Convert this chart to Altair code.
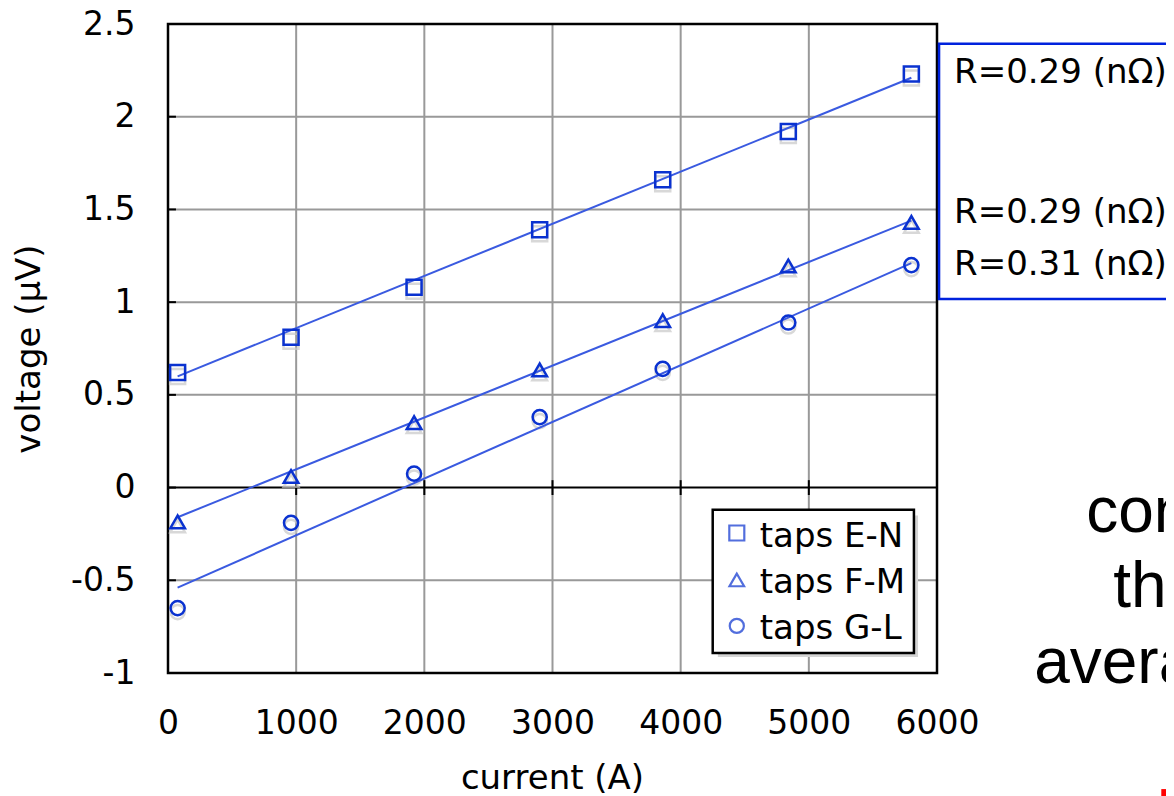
import altair as alt
import pandas as pd

# ---------------- data ----------------
current = [75, 960, 1920, 2900, 3860, 4840, 5800]
v_en = [0.62, 0.81, 1.08, 1.39, 1.66, 1.92, 2.23]
v_fm = [-0.185, 0.06, 0.35, 0.635, 0.90, 1.195, 1.43]
v_gl = [-0.65, -0.19, 0.075, 0.38, 0.64, 0.89, 1.20]
series = ["taps E-N", "taps F-M", "taps G-L"]
fit_x = [75, 5800]
fit_en = [0.60, 2.21]
fit_fm = [-0.16, 1.44]
fit_gl = [-0.54, 1.21]
r_labels = ["R=0.29 (nΩ)", "R=0.29 (nΩ)", "R=0.31 (nΩ)"]
slide_words = ["con", "the", "avera"]
x_ticks = [0, 1000, 2000, 3000, 4000, 5000, 6000]
y_ticks = [-1, -0.5, 0, 0.5, 1, 1.5, 2, 2.5]

# ---------------- tables ----------------
pts = pd.DataFrame({
    "series": [s for s in series for _ in current],
    "current": current * 3,
    "voltage": v_en + v_fm + v_gl,
})
fits = pd.DataFrame({
    "series": [s for s in series for _ in fit_x],
    "current": fit_x * 3,
    "voltage": fit_en + fit_fm + fit_gl,
})

BLUE = "#0a32d0"
LINE = "#3a5ae0"
FONT = "DejaVu Sans"

xs = alt.Scale(domain=[0, 6000], range=[0, 769], nice=False, zero=False)
ys = alt.Scale(domain=[-1, 2.5], nice=False, zero=False)
xaxis = alt.Axis(values=x_ticks, format="d", title="current (A)", grid=False,
                 domain=False, ticks=False, tickSize=0, labelPadding=34,
                 labelFont=FONT, labelFontSize=33, labelColor="black",
                 titleFont=FONT, titleFontSize=34, titleFontWeight="normal",
                 titleColor="black", titleX=384, titleY=115,
                 titleAlign="center", titleBaseline="alphabetic",
                 labelFlush=False, labelOverlap=False)
yaxis = alt.Axis(values=y_ticks, labelExpr="'' + datum.value", title="voltage (μV)",
                 grid=False, domain=False, ticks=False, tickSize=0, labelPadding=33,
                 labelFont=FONT, labelFontSize=33, labelColor="black",
                 titleFont=FONT, titleFontSize=34, titleFontWeight="normal",
                 titleColor="black", titleX=-129, titleY=324.5, titleAngle=270,
                 titleAlign="center", titleBaseline="alphabetic",
                 labelFlush=False, labelOverlap=False)


def X(f):
    return alt.X(f, type="quantitative", scale=xs, axis=xaxis)


def Y(f):
    return alt.Y(f, type="quantitative", scale=ys, axis=yaxis)


def XD(v):
    return alt.datum(v, type="quantitative", scale=xs, axis=xaxis)


def YD(v):
    return alt.datum(v, type="quantitative", scale=ys, axis=yaxis)


shape_enc = alt.Shape("series:N", scale=alt.Scale(domain=series, range=["square", "triangle-up", "circle"]), legend=None)
size_enc = alt.Size("series:N", scale=alt.Scale(domain=series, range=[225, 200, 160]), legend=None)
lsize_enc = alt.Size("series:N", scale=alt.Scale(domain=series, range=[180, 170, 140]), legend=None)

# grid, frame, inner ticks
vgrid = alt.Chart(pd.DataFrame({"c": x_ticks[1:-1]})).mark_rule(color="#999999", strokeWidth=2).encode(
    x=X("c"), y=YD(-1), y2=alt.datum(2.5))
hgrid = alt.Chart(pd.DataFrame({"v": [t for t in y_ticks if t not in (-1, 0, 2.5)]})).mark_rule(
    color="#999999", strokeWidth=2).encode(y=Y("v"), x=XD(0), x2=alt.datum(6000))
zero = alt.Chart(pd.DataFrame({"v": [0]})).mark_rule(color="black", strokeWidth=2).encode(
    y=Y("v"), x=XD(0), x2=alt.datum(6000))
lticks = alt.Chart(pd.DataFrame({"v": [t for t in y_ticks if t not in (-1, 2.5)]})).mark_rule(
    color="black", strokeWidth=2).encode(y=Y("v"), x=XD(0), x2=alt.datum(62))
zticks = alt.Chart(pd.DataFrame({"c": x_ticks[1:-1]})).mark_rule(color="black", strokeWidth=2).encode(
    x=X("c"), y=YD(-0.04), y2=alt.datum(0.04))
frame = alt.Chart(pd.DataFrame({"a": [0]})).mark_rect(fillOpacity=0, stroke="black", strokeWidth=2.5).encode(
    x=XD(0), x2=alt.datum(6000), y=YD(-1), y2=alt.datum(2.5))

# measured points and fit lines
shadow = alt.Chart(pts).mark_point(filled=False, strokeWidth=2.5, color="#c8c8c8", yOffset=4).encode(
    x=X("current"), y=Y("voltage"), shape=shape_enc, size=size_enc)
lines = alt.Chart(fits).mark_line(color=LINE, strokeWidth=2).encode(
    x=X("current"), y=Y("voltage"), detail="series:N")
points = alt.Chart(pts).mark_point(filled=False, strokeWidth=2.5, color=BLUE, opacity=1).encode(
    x=X("current"), y=Y("voltage"), shape=shape_enc, size=size_enc)

# legend box
leg_shadow = alt.Chart(pd.DataFrame({"a": [0]})).mark_rect(fill="#d4d4d4").encode(
    x=XD(4290), x2=alt.datum(5852), y=YD(-0.914), y2=alt.datum(-0.15))
leg_box = alt.Chart(pd.DataFrame({"a": [0]})).mark_rect(fill="white", stroke="black", strokeWidth=2.5).encode(
    x=XD(4250), x2=alt.datum(5820), y=YD(-0.892), y2=alt.datum(-0.12))
leg_df = pd.DataFrame({"series": series, "ys": [-0.245, -0.498, -0.746], "yt": [-0.32, -0.568, -0.816],
                       "xs": [4438] * 3, "xt": [4617] * 3})
leg_sym = alt.Chart(leg_df).mark_point(filled=False, strokeWidth=2.2, color=BLUE).encode(
    x=X("xs"), y=Y("ys"), shape=shape_enc, size=lsize_enc)
leg_txt = alt.Chart(leg_df).mark_text(align="left", baseline="alphabetic", font=FONT, fontSize=34,
                                      color="black").encode(x=X("xt"), y=Y("yt"), text="series:N")

# resistance box
r_box = alt.Chart(pd.DataFrame({"a": [0]})).mark_rect(fill="white", stroke="#0022dd", strokeWidth=2.5).encode(
    x=XD(6016), x2=alt.datum(9400), y=YD(1.017), y2=alt.datum(2.393))
r_df = pd.DataFrame({"label": r_labels, "x": [6133] * 3, "y": [2.183, 1.428, 1.147]})
r_txt = alt.Chart(r_df).mark_text(align="left", baseline="alphabetic", font=FONT, fontSize=34,
                                  color="black").encode(x=X("x"), y=Y("y"), text="label:N")

# slide text partially visible on the right
s_df = pd.DataFrame({"w": slide_words, "x": [7164, 7375, 6758], "y": [-0.240, -0.644, -1.054]})
s_txt = alt.Chart(s_df).mark_text(align="left", baseline="alphabetic", font="Liberation Sans",
                                  fontSize=64, color="black").encode(x=X("x"), y=Y("y"), text="w:N")

red = alt.Chart(pd.DataFrame({"a": [0]})).mark_rect(fill="#ff0000").encode(
    x=XD(7750), x2=alt.datum(7880), y=YD(-1.70), y2=alt.datum(-1.626))

chart = alt.layer(
    vgrid, hgrid, zero, lticks, zticks, frame, shadow, lines, points,
    leg_shadow, leg_box, leg_sym, leg_txt, r_box, r_txt, s_txt, red
).properties(
    width=998, height=649,
    autosize=alt.AutoSizeParams(type="none"),
    padding={"left": 160, "top": 16, "right": 0, "bottom": 123},
    background="white",
).configure_view(stroke=None)

chart.save("out.html", embed_options={"renderer": "svg", "actions": False})
